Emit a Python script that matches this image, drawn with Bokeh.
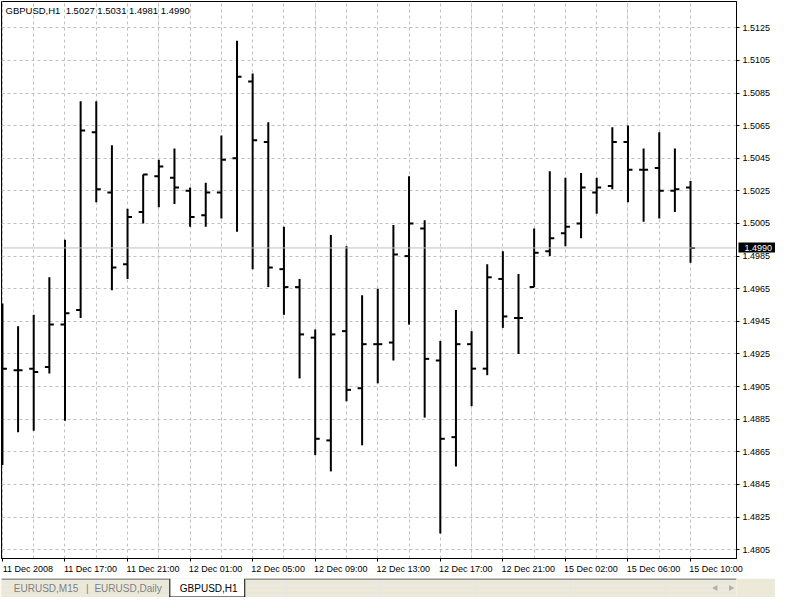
from bokeh.plotting import figure
from bokeh.layouts import column
from bokeh.models import (FixedTicker, LinearAxis, Grid, Span, Label, Range1d,
                          PrintfTickFormatter, CustomJSTickFormatter)
from bokeh.embed import file_html
from bokeh.resources import INLINE
from bokeh.core.properties import value
import math

# ---------------- data ----------------
symbol = "GBPUSD,H1"
opens = [1.4916, 1.4915, 1.4916, 1.4917, 1.4943, 1.4952, 1.5061, 1.5024, 1.4980, 1.5012,
         1.5034, 1.5033, 1.5025, 1.5010, 1.5024, 1.5045, 1.5092, 1.5055, 1.4977, 1.4966,
         1.4935, 1.4872, 1.4939, 1.4904, 1.4931, 1.4932, 1.4985, 1.5002, 1.4921, 1.4874,
         1.4931, 1.4916, 1.4971, 1.4947, 1.4966, 1.4988, 1.4999, 1.5005, 1.5024, 1.5028,
         1.5055, 1.5038, 1.5039, 1.5025, 1.5027]
highs = [1.4956, 1.4942, 1.4949, 1.4972, 1.4995, 1.5080, 1.5080, 1.5053, 1.5014, 1.5035,
         1.5044, 1.5051, 1.5027, 1.5030, 1.5059, 1.5117, 1.5097, 1.5067, 1.5003, 1.4971,
         1.4940, 1.4998, 1.4991, 1.4961, 1.4965, 1.5004, 1.5034, 1.5007, 1.4933, 1.4952,
         1.4939, 1.4980, 1.4988, 1.4974, 1.5002, 1.5037, 1.5033, 1.5036, 1.5033, 1.5064,
         1.5065, 1.5051, 1.5061, 1.5051, 1.5031]
lows = [1.4857, 1.4877, 1.4878, 1.4913, 1.4884, 1.4947, 1.5018, 1.4964, 1.4971, 1.5005,
        1.5015, 1.5017, 1.5003, 1.5003, 1.5008, 1.5000, 1.4977, 1.4966, 1.4949, 1.4910,
        1.4863, 1.4853, 1.4896, 1.4869, 1.4907, 1.4921, 1.4943, 1.4886, 1.4815, 1.4856,
        1.4893, 1.4912, 1.4941, 1.4925, 1.4966, 1.4985, 1.4991, 1.4996, 1.5011, 1.5026,
        1.5018, 1.5006, 1.5008, 1.5012, 1.4981]
closes = [1.4916, 1.4915, 1.4914, 1.4943, 1.4950, 1.5062, 1.5026, 1.4978, 1.5009, 1.5035,
          1.5040, 1.5027, 1.5009, 1.5024, 1.5044, 1.5095, 1.5056, 1.4978, 1.4966, 1.4937,
          1.4873, 1.4937, 1.4903, 1.4931, 1.4931, 1.4986, 1.5005, 1.4922, 1.4873, 1.4931,
          1.4916, 1.4972, 1.4948, 1.4947, 1.4987, 1.4996, 1.5003, 1.5027, 1.5027, 1.5055,
          1.5038, 1.5038, 1.5025, 1.5026, 1.4990]
time_tick_bars = [0, 4, 8, 12, 16, 20, 24, 28, 32, 36, 40, 44]
time_tick_labels = ["11 Dec 2008", "11 Dec 17:00", "11 Dec 21:00", "12 Dec 01:00",
                    "12 Dec 05:00", "12 Dec 09:00", "12 Dec 13:00", "12 Dec 17:00",
                    "12 Dec 21:00", "15 Dec 02:00", "15 Dec 06:00", "15 Dec 10:00"]
price_ticks = [1.4805, 1.4825, 1.4845, 1.4865, 1.4885, 1.4905, 1.4925, 1.4945, 1.4965,
               1.4985, 1.5005, 1.5025, 1.5045, 1.5065, 1.5085, 1.5105, 1.5125]
last_price = 1.4990
tabs = ["EURUSD,M15", "EURUSD,Daily", "GBPUSD,H1"]

# ---------------- layout constants ----------------
FONT = "Liberation Sans"
W = 775
H_MAIN = 578
H_TAB = 19
B_LEFT, B_TOP, B_RIGHT, B_BOTTOM = 1, 1, 38, 20
FRAME_W = W - B_LEFT - B_RIGHT
FRAME_H = H_MAIN - B_TOP - B_BOTTOM
X0, X1 = -0.06, 46.94
Y0, Y1 = 1.47996, 1.51411
PPU_X = FRAME_W / (X1 - X0)
PPU_Y = FRAME_H / (Y1 - Y0)
AXIS_FS = 9
PRICE_AXIS_W = 3 + 3 + round(3.058 * AXIS_FS)   # tick + standoff + label width (approx.)

n = len(opens)
xs = list(range(n))

p = figure(width=W, height=H_MAIN, output_backend="svg", toolbar_location=None,
           x_range=Range1d(X0, X1), y_range=Range1d(Y0, Y1),
           x_axis_location=None, y_axis_location="right",
           min_border_left=B_LEFT, min_border_top=B_TOP,
           min_border_right=B_RIGHT, min_border_bottom=B_BOTTOM,
           background_fill_color="white", border_fill_color="white",
           outline_line_color="black", outline_line_width=1)

# right price axis
yax = p.yaxis[0]
yax.ticker = FixedTicker(ticks=price_ticks)
yax.formatter = PrintfTickFormatter(format="%.4f")
yax.major_tick_out = 3
yax.major_tick_in = 0
yax.minor_tick_out = 0
yax.minor_tick_in = 0
yax.major_label_standoff = 3
yax.axis_line_color = "black"
yax.major_tick_line_color = "black"
yax.major_label_text_font = FONT
yax.major_label_text_font_size = "%dpx" % AXIS_FS
yax.major_label_text_color = "black"

# last-price tag on the price scale: second right axis, its single thick tick pointing
# back over the price scale forms the black box, its label is pulled back onto the box
tag_axis = LinearAxis(ticker=FixedTicker(ticks=[last_price]),
                      formatter=PrintfTickFormatter(format="%.4f"),
                      major_tick_in=PRICE_AXIS_W + 1, major_tick_out=5,
                      major_tick_line_width=10, major_tick_line_color="black",
                      major_tick_line_cap="butt",
                      minor_tick_out=0, minor_tick_in=0, axis_line_color=None,
                      major_label_standoff=-(PRICE_AXIS_W + 5) + 5,
                      major_label_text_color="white", major_label_text_font=FONT,
                      major_label_text_font_size="%dpx" % AXIS_FS)
p.add_layout(tag_axis, "right")

# grids
p.ygrid.ticker = FixedTicker(ticks=price_ticks)
p.ygrid.grid_line_color = "#c0c0c0"
p.ygrid.grid_line_dash = "3 3"
p.ygrid.grid_line_width = 1
xgrid = Grid(dimension=0, ticker=FixedTicker(ticks=[i for i in xs if i % 2 == 0]),
             grid_line_color="#c0c0c0", grid_line_dash="3 3", grid_line_width=1)
p.add_layout(xgrid)

# bottom time axis: tick marks only (labels not painted)
ax_ticks = LinearAxis(ticker=FixedTicker(ticks=time_tick_bars),
                      major_label_text_font_size="1px", major_label_text_color=None,
                      major_label_standoff=0,
                      major_tick_out=3, major_tick_in=0, minor_tick_out=0, minor_tick_in=0,
                      axis_line_color="black", major_tick_line_color="black")
p.add_layout(ax_ticks, "below")
# bottom time axis: labels, left-aligned at their tick
half_label = 25.5 / PPU_X
ax_labels = LinearAxis(ticker=FixedTicker(ticks=[t + half_label for t in time_tick_bars]),
                       formatter=CustomJSTickFormatter(args=dict(labels=time_tick_labels),
                                                       code="return labels[index]"),
                       major_label_standoff=2, major_tick_out=0, major_tick_in=0,
                       minor_tick_out=0, minor_tick_in=0,
                       axis_line_color=None, major_tick_line_color=None,
                       major_label_text_font=FONT, major_label_text_font_size="%dpx" % AXIS_FS,
                       major_label_text_color="black")
p.add_layout(ax_labels, "below")

# current price line
p.add_layout(Span(location=last_price, dimension="width", line_color="#c0c0c0", line_width=1))

# OHLC bars
tick_len = 4.5 / PPU_X
p.segment(x0=xs, y0=lows, x1=xs, y1=highs, line_color="black", line_width=2)
p.segment(x0=[i - tick_len for i in xs], y0=opens, x1=xs, y1=opens,
          line_color="black", line_width=2)
p.segment(x0=xs, y0=closes, x1=[i + tick_len for i in xs], y1=closes,
          line_color="black", line_width=2)

# header text
header = "%s\u00a0\u00a0%.4f %.4f %.4f %.4f" % (symbol, opens[-1], highs[-1], lows[-1], closes[-1])
p.add_layout(Label(x=X0 + 4 / PPU_X, y=Y1 - 9 / PPU_Y, text=header,
                   text_font=FONT, text_font_size="9.5px", text_color="black",
                   text_baseline="middle", text_align="left"))

# ---------------- tab strip ----------------
t = figure(width=W, height=H_TAB, output_backend="svg", toolbar_location=None,
           x_range=Range1d(0, W), y_range=Range1d(0, H_TAB),
           x_axis_location=None, y_axis_location=None, min_border=0,
           outline_line_color=None, background_fill_color="#ece9d8",
           border_fill_color="#ece9d8")
t.segment(x0=[0, 257], y0=[H_TAB - 0.5] * 2, x1=[177, W], y1=[H_TAB - 0.5] * 2,
          line_color="#404040", line_width=1)
t.quad(left=[177], right=[257], bottom=[0], top=[H_TAB], fill_color="white", line_color=None)
t.segment(x0=[177.5, 256.5, 177], y0=[0, 0, 0.5], x1=[177.5, 256.5, 257], y1=[H_TAB, H_TAB, 0.5],
          line_color="black", line_width=1)
t.text(x=[13, 98, 188], y=[9.5] * 3, text=tabs, text_font=value(FONT),
       text_font_size="10px", text_baseline="middle", text_align="left",
       text_color=["#808080", "#808080", "black"])
t.text(x=[89], y=[9.5], text=["|"], text_font=value(FONT), text_font_size="10px",
       text_baseline="middle", text_align="left", text_color="#808080")
t.scatter(x=[753, 769], y=[9.5, 9.5], marker="triangle", angle=[math.pi / 2, -math.pi / 2],
          size=6, fill_color="#b0b0b0", line_color=None)

layout = column(p, t, spacing=0)
open("out.html", "w").write(file_html(layout, INLINE))
